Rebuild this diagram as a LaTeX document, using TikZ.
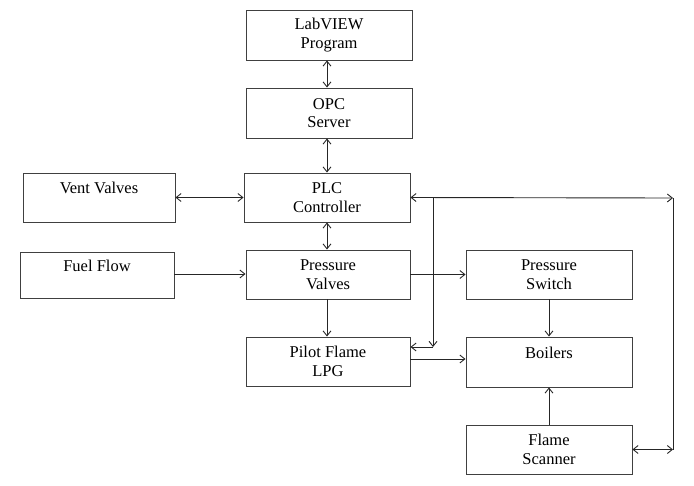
\documentclass[tikz,border=0pt]{standalone}
\usepackage{fontspec}
\setmainfont{Liberation Serif}
\usetikzlibrary{arrows.meta}
\begin{document}
\begin{tikzpicture}[x=1pt,y=-1pt,
  box/.style={draw=black!75, line width=0.9pt, align=center, inner sep=0pt,
    font=\rmfamily\fontsize{16.5}{18.5}\selectfont, text=black},
  conn/.style={draw=black!85, line width=0.9pt},
  arr/.style={conn, -{Straight Barb[length=5pt,width=8pt]}},
  darr/.style={conn, {Straight Barb[length=5pt,width=8pt]}-{Straight Barb[length=5pt,width=8pt]}}]
\useasboundingbox (0,0) rectangle (694,485);
\node[box, minimum width=166pt, minimum height=50pt] (labview) at (329,35) {LabVIEW\\Program};
\node[box, minimum width=166pt, minimum height=50pt] (opc) at (329,113) {OPC\\Server};
\node[box, minimum width=166pt, minimum height=49pt] (plc) at (327,197.5) {PLC\\Controller};
\node[box, minimum width=164pt, minimum height=49pt] (pv) at (328,274.5) {Pressure\\Valves};
\node[box, minimum width=164pt, minimum height=49pt] (pilot) at (328,361.5) {Pilot Flame\\LPG};
\node[box, minimum width=152pt, minimum height=49pt] (vent) at (99,197.5) {Vent Valves\\\mbox{}};
\node[box, minimum width=154pt, minimum height=46pt] (fuel) at (97,275) {Fuel Flow\\\mbox{}};
\node[box, minimum width=166pt, minimum height=49pt] (psw) at (549,274.5) {Pressure\\Switch};
\node[box, minimum width=166pt, minimum height=50pt] (boil) at (549,362) {Boilers\\\mbox{}};
\node[box, minimum width=166pt, minimum height=49pt] (flame) at (549,449.5) {Flame\\Scanner};
\coordinate (r1) at (673,198);
\coordinate (j1) at (433,198);
\coordinate (j2) at (433,347);
% vertical chain
\draw[darr] (labview.south -| 327,0) -- (opc.north -| 327,0);
\draw[darr] (opc.south -| 327,0) -- (plc.north -| 327,0);
\draw[darr] (plc.south -| 327,0) -- (pv.north -| 327,0);
\draw[arr] (pv.south -| 327,0) -- (pilot.north -| 327,0);
% left inputs
\draw[darr] (vent.east) -- (plc.west);
\draw[arr] (fuel.east |- 0,274) -- (pv.west |- 0,274);
% right side
\draw[arr] (pv.east) -- (psw.west);
\draw[arr] (psw.south) -- (boil.north);
\draw[arr] (pilot.east |- 0,359) -- (boil.west |- 0,359);
\draw[arr] (flame.north) -- (boil.south);
% PLC network
\draw[darr] (plc.east) -- (r1);
\draw[conn] (r1) -- (r1 |- flame.east);
\draw[darr] (flame.east) -- (flame.east -| r1);
\draw[arr] (j1) -- (j2);
\draw[arr] (j2) -- (pilot.east |- j2);
\end{tikzpicture}
\end{document}
